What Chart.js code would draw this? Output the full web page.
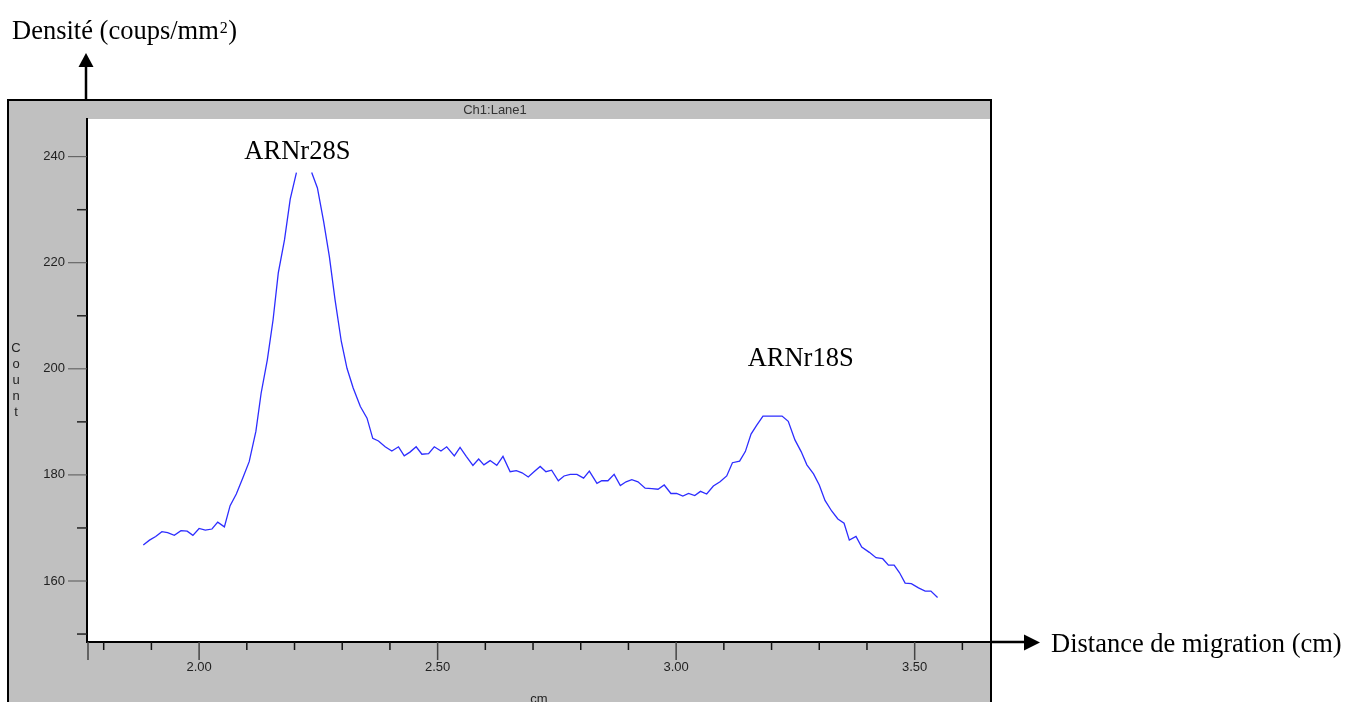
<!DOCTYPE html>
<html lang="fr">
<head>
<meta charset="utf-8">
<title>Ch1:Lane1</title>
<script src="https://cdn.jsdelivr.net/npm/chart.js@4.4.1/dist/chart.umd.min.js"></script>
<style>
  html, body { margin: 0; padding: 0; background: #fff; overflow: hidden; }
  #wrap { position: relative; width: 1348px; height: 702px; }
  #countLabel {
    position: absolute; left: 9.5px; top: 340px;
    writing-mode: vertical-lr; text-orientation: upright;
    font: 13px "Liberation Sans", Arial, sans-serif; line-height: 13px;
    letter-spacing: 1px; color: #222;
  }
</style>
</head>
<body>
<div id="wrap">
  <canvas id="densityChart"></canvas>
  <div id="countLabel">Count</div>
</div>
<script>
// migration distance of each sample (cm)
const distanceCm = [
    1.883, 1.896, 1.909, 1.922, 1.934, 1.948, 1.962, 1.975, 1.987, 2.000,
    2.013, 2.027, 2.039, 2.053, 2.065, 2.078, 2.092, 2.105, 2.119, 2.130,
    2.143, 2.155, 2.166, 2.179, 2.191, 2.204, 2.215, 2.225, 2.236, 2.248,
    2.261, 2.273, 2.285, 2.298, 2.310, 2.323, 2.338, 2.352, 2.364, 2.376,
    2.390, 2.404, 2.418, 2.430, 2.442, 2.455, 2.467, 2.481, 2.493, 2.507,
    2.519, 2.535, 2.547, 2.560, 2.574, 2.586, 2.597, 2.610, 2.624, 2.637,
    2.652, 2.665, 2.677, 2.690, 2.702, 2.715, 2.727, 2.739, 2.753, 2.765,
    2.778, 2.792, 2.806, 2.818, 2.834, 2.844, 2.857, 2.870, 2.883, 2.895,
    2.907, 2.920, 2.935, 2.949, 2.962, 2.975, 2.989, 3.001, 3.014, 3.026,
    3.039, 3.051, 3.064, 3.078, 3.092, 3.106, 3.118, 3.133, 3.145, 3.157,
    3.169, 3.182, 3.195, 3.208, 3.222, 3.235, 3.249, 3.262, 3.274, 3.288,
    3.300, 3.312, 3.326, 3.339, 3.352, 3.363, 3.377, 3.389, 3.405, 3.419,
    3.433, 3.445, 3.457, 3.468, 3.480, 3.493, 3.508, 3.522, 3.534, 3.548
];

// density (count) per sample; the top of the 28S peak is not drawn in the original
const countValues = [
    166.8, 167.7, 168.4, 169.3, 169.1, 168.6, 169.5, 169.4, 168.6, 169.9,
    169.6, 169.8, 171.1, 170.2, 174.2, 176.4, 179.5, 182.5, 188.2, 195.4,
    201.7, 209.2, 218.1, 224.3, 232.0, 237.0, null, null, 237.0, 234.1,
    227.8, 221.2, 213.0, 205.2, 200.1, 196.4, 192.9, 190.7, 186.9, 186.4,
    185.3, 184.5, 185.3, 183.6, 184.3, 185.3, 183.9, 184.0, 185.3, 184.5,
    185.3, 183.6, 185.2, 183.5, 181.8, 183.0, 181.9, 182.7, 181.8, 183.5,
    180.6, 180.8, 180.4, 179.6, 180.6, 181.6, 180.6, 180.9, 178.9, 179.8,
    180.1, 180.1, 179.4, 180.7, 178.4, 178.9, 178.9, 180.1, 178.0, 178.7,
    179.1, 178.7, 177.5, 177.4, 177.3, 178.1, 176.5, 176.5, 176.0, 176.5,
    176.1, 176.9, 176.4, 177.9, 178.7, 179.8, 182.3, 182.6, 184.4, 187.7,
    189.4, 191.1, 191.1, 191.1, 191.1, 190.1, 186.6, 184.4, 181.9, 180.2,
    178.1, 175.2, 173.2, 171.7, 170.9, 167.7, 168.4, 166.4, 165.4, 164.4,
    164.2, 163.0, 163.0, 161.6, 159.6, 159.5, 158.7, 158.1, 158.1, 156.9
];

// tick stops and the ones that carry a label
const xTickValues = [1.8, 1.9, 2.0, 2.1, 2.2, 2.3, 2.4, 2.5, 2.6, 2.7,
                     2.8, 2.9, 3.0, 3.1, 3.2, 3.3, 3.4, 3.5, 3.6];
const yTickValues = [150, 160, 170, 180, 190, 200, 210, 220, 230, 240];
const xTickLabels = ['2.00', '2.50', '3.00', '3.50'];
const yTickLabels = ['160', '180', '200', '220', '240'];
const peakNames = ['ARNr28S', 'ARNr18S'];

const SANS = '"Liberation Sans", Arial, sans-serif';
const SERIF = '"Liberation Serif", "Times New Roman", serif';

// where the peak names sit, in chart units (cm, count)
const peakLabelSpots = [[2.206, 239.5], [3.261, 200.5]];

const framePlugin = {
    id: 'frame',
    beforeDraw(chart) {
        const { ctx, chartArea: a } = chart;
        ctx.save();
        ctx.fillStyle = '#c0c0c0';
        ctx.fillRect(8, 100, a.right - 8, chart.height - 100);
        ctx.fillStyle = '#fff';
        ctx.fillRect(a.left, a.top, a.right - a.left, a.bottom - a.top);
        ctx.strokeStyle = '#000';
        ctx.lineWidth = 2;
        ctx.beginPath();
        ctx.moveTo(8, chart.height);
        ctx.lineTo(8, 100);
        ctx.lineTo(a.right, 100);
        ctx.lineTo(a.right, chart.height);
        ctx.stroke();
        ctx.restore();
    },
    afterDraw(chart) {
        const { ctx, chartArea: a } = chart;
        const xs = chart.scales.x;
        const ys = chart.scales.y;
        ctx.save();

        // panel title
        ctx.fillStyle = '#333';
        ctx.font = '13px ' + SANS;
        ctx.textAlign = 'center';
        ctx.textBaseline = 'middle';
        ctx.fillText('Ch1:Lane1', 495, 110);
        ctx.fillStyle = '#222';
        ctx.fillText('cm', (a.left + a.right) / 2, 699);

        // x tick marks: long on labelled ticks, short otherwise
        ctx.lineWidth = 1.5;
        xs.ticks.forEach(t => {
            const px = xs.getPixelForValue(t.value);
            const major = xTickLabels.includes(t.value.toFixed(2));
            ctx.strokeStyle = major ? '#444' : '#111';
            ctx.beginPath();
            ctx.moveTo(px, a.bottom);
            ctx.lineTo(px, a.bottom + (major ? 18 : 8));
            ctx.stroke();
        });
        ctx.strokeStyle = '#444';
        ctx.beginPath();
        ctx.moveTo(a.left + 1, a.bottom);
        ctx.lineTo(a.left + 1, a.bottom + 18);
        ctx.stroke();

        // y tick marks
        ys.ticks.forEach(t => {
            const py = ys.getPixelForValue(t.value);
            const major = yTickLabels.includes(String(t.value));
            ctx.strokeStyle = major ? '#555' : '#222';
            ctx.lineWidth = major ? 1 : 1.5;
            ctx.beginPath();
            ctx.moveTo(a.left - (major ? 19 : 10), py);
            ctx.lineTo(a.left, py);
            ctx.stroke();
        });

        // axis arrows
        ctx.fillStyle = '#000';
        ctx.strokeStyle = '#000';
        ctx.lineWidth = 2.5;
        ctx.beginPath();
        ctx.moveTo(a.left - 1, 100);
        ctx.lineTo(a.left - 1, 64);
        ctx.stroke();
        ctx.beginPath();
        ctx.moveTo(a.left - 1, 53);
        ctx.lineTo(a.left - 8.5, 67);
        ctx.lineTo(a.left + 6.5, 67);
        ctx.closePath();
        ctx.fill();

        ctx.beginPath();
        ctx.moveTo(a.right, a.bottom);
        ctx.lineTo(1027, a.bottom);
        ctx.stroke();
        ctx.beginPath();
        ctx.moveTo(1040, a.bottom + 0.5);
        ctx.lineTo(1024, a.bottom - 7.5);
        ctx.lineTo(1024, a.bottom + 8.5);
        ctx.closePath();
        ctx.fill();

        // axis captions
        ctx.textAlign = 'left';
        ctx.textBaseline = 'alphabetic';
        ctx.font = '26.5px ' + SERIF;
        const head = 'Densité (coups/mm';
        ctx.fillText(head, 12, 39);
        const w1 = ctx.measureText(head).width;
        ctx.font = '16px ' + SERIF;
        ctx.fillText('2', 13 + w1, 33);
        const w2 = ctx.measureText('2').width;
        ctx.font = '26.5px ' + SERIF;
        ctx.fillText(')', 13.5 + w1 + w2, 39);
        ctx.fillText('Distance de migration (cm)', 1051, 652);

        // peak names
        ctx.textAlign = 'center';
        peakNames.forEach((name, i) => {
            const [cx, cy] = peakLabelSpots[i];
            ctx.fillText(name, xs.getPixelForValue(cx), ys.getPixelForValue(cy));
        });

        ctx.restore();
    }
};

new Chart(document.getElementById('densityChart'), {
    type: 'line',
    data: {
        datasets: [{
            label: 'Ch1:Lane1',
            data: distanceCm.map((d, i) => ({ x: d, y: countValues[i] })),
            borderColor: 'rgb(45, 45, 255)',
            borderWidth: 1.3,
            pointRadius: 0,
            tension: 0,
            fill: false,
            spanGaps: false
        }]
    },
    options: {
        responsive: true,
        maintainAspectRatio: false,
        animation: false,
        events: [],
        layout: { padding: { left: 9, top: 119, right: 357, bottom: 0 } },
        plugins: {
            legend: { display: false },
            tooltip: { enabled: false }
        },
        scales: {
            x: {
                type: 'linear',
                position: 'bottom',
                min: 1.765,
                max: 3.66,
                bounds: 'data',
                grid: { display: false, drawTicks: false },
                border: { display: true, color: '#000', width: 2 },
                afterBuildTicks: s => { s.ticks = xTickValues.map(v => ({ value: v })); },
                ticks: {
                    autoSkip: false,
                    maxRotation: 0,
                    padding: 18,
                    color: '#222',
                    font: { family: SANS, size: 13 },
                    callback: v => {
                        const s = Number(v).toFixed(2);
                        return xTickLabels.includes(s) ? s : '';
                    }
                },
                afterFit: s => { s.height = 60; }
            },
            y: {
                type: 'linear',
                min: 148.5,
                max: 247.1,
                bounds: 'data',
                grid: { display: false, drawTicks: false },
                border: { display: true, color: '#000', width: 2 },
                afterBuildTicks: s => { s.ticks = yTickValues.map(v => ({ value: v })); },
                ticks: {
                    autoSkip: false,
                    padding: 22,
                    color: '#222',
                    font: { family: SANS, size: 13 },
                    callback: v => yTickLabels.includes(String(v)) ? String(v) : ''
                },
                afterFit: s => { s.width = 78; }
            }
        }
    },
    plugins: [framePlugin]
});
</script>
</body>
</html>
